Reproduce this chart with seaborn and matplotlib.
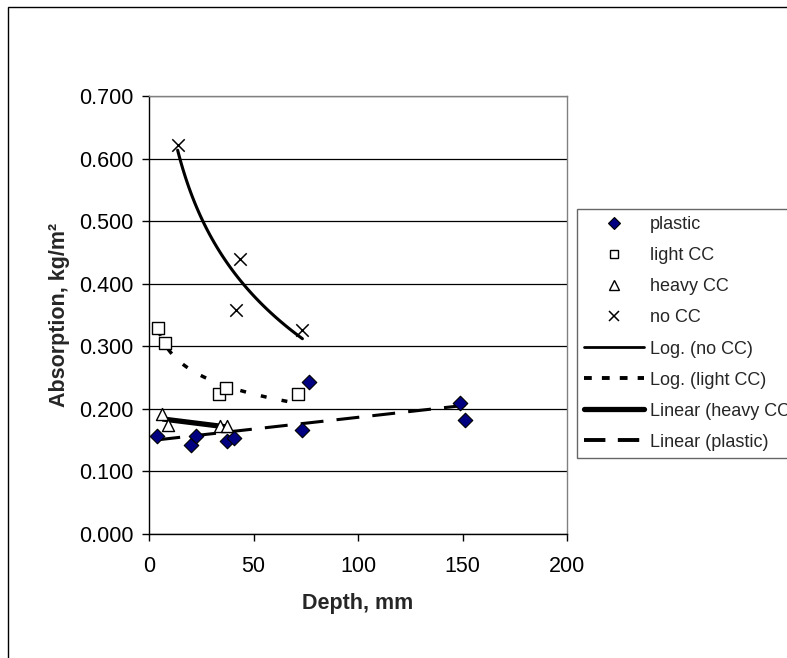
import numpy as np
import pandas as pd
import matplotlib
matplotlib.use('Agg')
import matplotlib.pyplot as plt
import seaborn as sns
from matplotlib.lines import Line2D
from matplotlib.patches import Rectangle

# 데이터
plastic_x = [4.0, 19.9, 22.3, 37.2, 40.5, 73.4, 76.7, 148.8, 151.3]
plastic_y = [0.156, 0.142, 0.157, 0.148, 0.153, 0.166, 0.243, 0.209, 0.182]
light_x = [4.5, 7.7, 33.6, 36.8, 71.4]
light_y = [0.329, 0.305, 0.223, 0.234, 0.223]
heavy_x = [6.4, 8.9, 34.0, 37.5]
heavy_y = [0.192, 0.174, 0.172, 0.172]
nocc_x = [13.7, 41.5, 43.5, 73.4]
nocc_y = [0.622, 0.358, 0.440, 0.326]

y_ticks = [0.0, 0.1, 0.2, 0.3, 0.4, 0.5, 0.6, 0.7]
x_ticks = [0, 50, 100, 150, 200]

sns.set_style('white')
plt.rcParams['font.family'] = ['Liberation Sans', 'DejaVu Sans']

fig = plt.figure(figsize=(7.87, 6.58), dpi=100)
ax = fig.add_axes([149 / 787, 1 - 534 / 658, 418 / 787, 438 / 658])

# 바깥 테두리
fig.patches.append(Rectangle((8 / 787, -0.2), 1.2, 1.2 - 7 / 658,
                             transform=fig.transFigure, fill=False,
                             edgecolor='black', lw=1.0, zorder=0))

# 산점도
sns.scatterplot(x=plastic_x, y=plastic_y, ax=ax, marker='D', s=55,
                color='#000080', edgecolor='black', linewidth=0.8, zorder=5)
sns.scatterplot(x=light_x, y=light_y, ax=ax, marker='s', s=70,
                facecolor='white', edgecolor='black', linewidth=1.0, zorder=5)
sns.scatterplot(x=heavy_x, y=heavy_y, ax=ax, marker='^', s=75,
                facecolor='white', edgecolor='black', linewidth=1.0, zorder=5)
sns.scatterplot(x=nocc_x, y=nocc_y, ax=ax, marker='x', s=80,
                color='black', linewidth=1.1, zorder=5)

# 추세선
def log_fit(xs, ys):
    b, a = np.polyfit(np.log(xs), ys, 1)
    xx = np.linspace(min(xs), max(xs), 100)
    return xx, a + b * np.log(xx)

def lin_fit(xs, ys):
    b, a = np.polyfit(xs, ys, 1)
    xx = np.array([min(xs), max(xs)])
    return xx, a + b * xx

xx, yy = log_fit(nocc_x, nocc_y)
ax.plot(xx, yy, color='black', lw=2.2, zorder=4)
xx, yy = log_fit(light_x, light_y)
ax.plot(xx, yy, color='black', lw=2.5, linestyle=(0, (1.7, 4.4)), zorder=4)
xx, yy = lin_fit(heavy_x, heavy_y)
ax.plot(xx, yy, color='black', lw=3.8, zorder=4, solid_capstyle='butt')
xx, yy = lin_fit(plastic_x, plastic_y)
ax.plot(xx, yy, color='black', lw=2.2, linestyle=(0, (7.5, 4.3)), zorder=4)

# 축
ax.set_xlim(0, 200)
ax.set_ylim(0, 0.7)
ax.set_xticks(x_ticks)
ax.set_yticks(y_ticks)
ax.set_yticklabels([f'{v:.3f}' for v in y_ticks])
ax.tick_params(axis='both', direction='out', length=5, width=1, labelsize=15.5,
               left=True, bottom=True, colors='black')
ax.tick_params(axis='x', pad=11)
ax.tick_params(axis='y', pad=6)
ax.yaxis.grid(True, color='black', lw=0.9)
ax.set_axisbelow(True)
ax.spines['left'].set_color('black')
ax.spines['bottom'].set_color('black')
ax.spines['right'].set_color('#808080')
ax.spines['top'].set_color('#808080')
for s in ax.spines.values():
    s.set_linewidth(1.0)

ax.set_xlabel('Depth, mm', fontsize=15.5, fontweight='bold', labelpad=11)
ax.set_ylabel('Absorption, kg/m²', fontsize=15.5, fontweight='bold', labelpad=7)

# 범례
handles = [
    Line2D([], [], ls='none', marker='D', ms=6, mfc='#000080', mec='black', mew=0.8),
    Line2D([], [], ls='none', marker='s', ms=6, mfc='white', mec='black', mew=1.0),
    Line2D([], [], ls='none', marker='^', ms=6.5, mfc='white', mec='black', mew=1.0),
    Line2D([], [], ls='none', marker='x', ms=7, color='black', mew=1.1),
    Line2D([], [], color='black', lw=2.0),
    Line2D([], [], color='black', lw=2.8, linestyle=(0, (2.0, 2.6))),
    Line2D([], [], color='black', lw=3.8),
    Line2D([], [], color='black', lw=2.8, linestyle=(0, (5.5, 3.2))),
]
labels = ['plastic', 'light CC', 'heavy CC', 'no CC', 'Log. (no CC)',
          'Log. (light CC)', 'Linear (heavy CC)', 'Linear (plastic)']
leg = fig.legend(handles, labels, loc='upper left',
                 bbox_to_anchor=(577 / 787, 1 - 209 / 658),
                 bbox_transform=fig.transFigure, borderaxespad=0,
                 fontsize=13, frameon=True, fancybox=False, shadow=False,
                 handlelength=3.3, handletextpad=0.35, labelspacing=0.78,
                 borderpad=0.4)
leg.get_frame().set_edgecolor('#404040')
leg.get_frame().set_linewidth(1.0)

fig.savefig('out.png', dpi=100)
